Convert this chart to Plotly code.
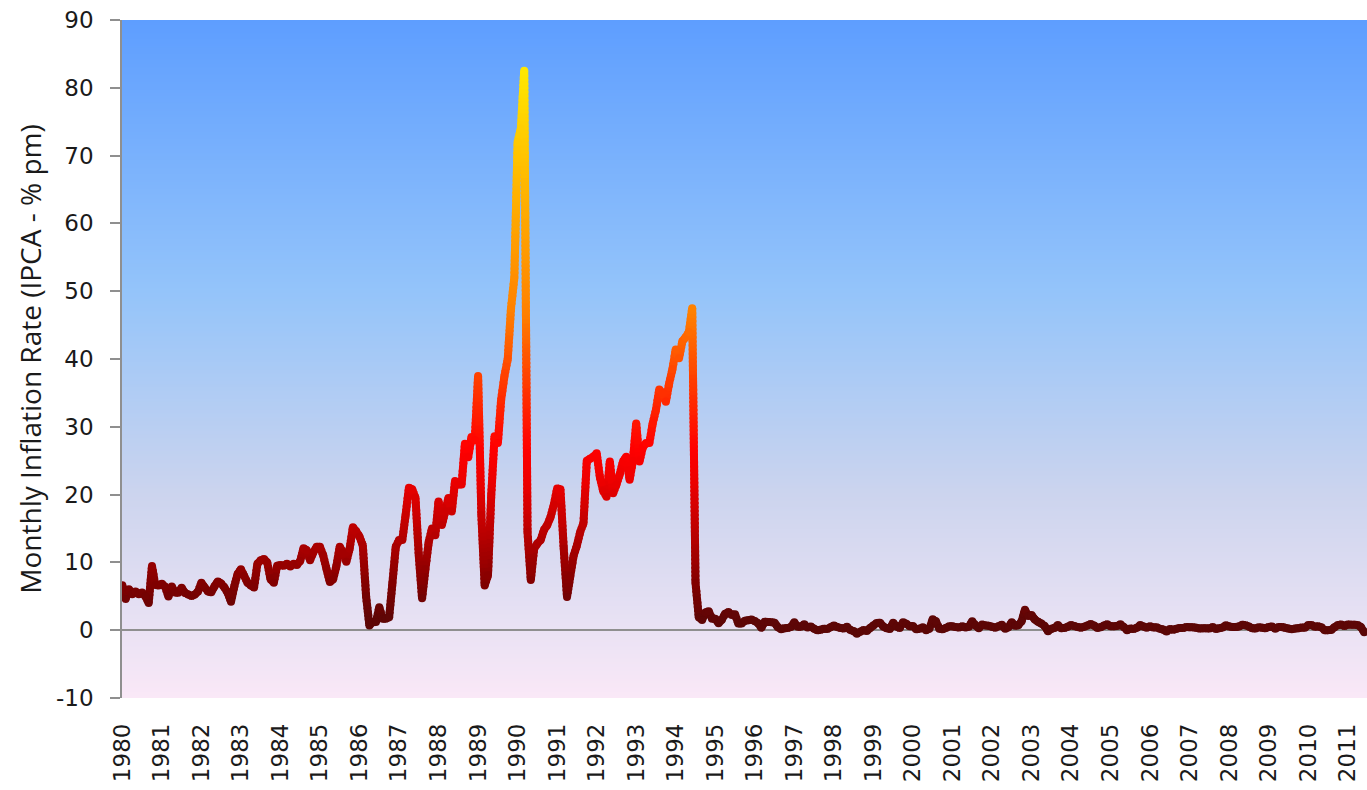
import base64
import math
import struct
import zlib

import plotly.graph_objects as go

# ---------------- data (monthly IPCA, % per month) ----------------
years = list(range(1980, 2012))
year_labels = [str(y) for y in years]
y_ticks = list(range(-10, 91, 10))
y_labels = [str(v) for v in y_ticks]

rate_1980_1984 = [
    6.62, 4.62, 6.04, 5.29, 5.70, 5.31, 5.55, 5.01, 4.00, 9.48, 6.67, 6.61,
    6.84, 6.40, 4.97, 6.46, 5.56, 5.52, 6.26, 5.50, 5.28, 5.04, 5.26, 5.72,
    7.0, 6.3, 5.7, 5.6, 6.5, 7.2, 6.9, 6.3, 5.5, 4.2, 6.5, 8.3,
    9.0, 8.0, 7.0, 6.6, 6.3, 9.8, 10.3, 10.5, 10.0, 7.5, 7.0, 9.5,
    9.6, 9.5, 9.8, 9.4, 9.8, 9.6, 10.2, 12.1, 11.8, 10.3, 11.5, 12.3,
]
rate_1985_1989 = [
    12.3, 11.0, 9.0, 7.1, 7.5, 9.5, 12.3, 11.5, 10.1, 12.0, 15.2, 14.6,
    13.8, 12.5, 5.0, 0.7, 1.2, 1.2, 3.4, 1.7, 1.7, 1.9, 7.0, 12.3,
    13.3, 13.3, 17.0, 21.0, 20.8, 19.5, 11.0, 4.7, 9.0, 13.0, 15.0, 14.0,
    19.0, 15.5, 17.5, 19.5, 17.5, 22.0, 21.5, 21.5, 27.5, 25.5, 28.5, 28.0,
    37.5, 17.0, 6.6, 8.1, 20.0, 28.6, 27.6, 34.0, 37.5, 40.0, 47.5, 52.0,
]
rate_1990_1994 = [
    72.0, 74.0, 82.5, 14.5, 7.4, 12.0, 12.8, 13.3, 14.8, 15.5, 16.7, 18.5,
    20.9, 20.8, 12.0, 4.9, 8.0, 11.0, 12.5, 14.5, 15.8, 25.0, 25.3, 25.6,
    26.1, 22.5, 20.5, 19.7, 24.9, 20.2, 21.5, 23.0, 24.9, 25.6, 22.2, 25.0,
    30.5, 24.9, 27.0, 27.6, 27.6, 30.5, 32.5, 35.5, 35.0, 33.7, 36.4, 38.5,
    41.4, 40.1, 42.6, 43.2, 44.0, 47.5, 7.0, 1.9, 1.5, 2.6, 2.8, 1.7,
]
rate_1995_1999 = [
    1.70, 1.02, 1.55, 2.43, 2.67, 2.26, 2.36, 0.99, 0.99, 1.41, 1.47, 1.56,
    1.34, 1.03, 0.35, 1.26, 1.22, 1.19, 1.11, 0.44, 0.15, 0.30, 0.32, 0.47,
    1.18, 0.50, 0.51, 0.88, 0.41, 0.54, 0.22, -0.02, 0.06, 0.23, 0.17, 0.43,
    0.71, 0.46, 0.34, 0.24, 0.50, 0.02, -0.12, -0.51, -0.22, 0.02, -0.12, 0.33,
    0.70, 1.05, 1.10, 0.56, 0.30, 0.19, 1.09, 0.56, 0.31, 1.19, 0.95, 0.60,
]
rate_2000_2004 = [
    0.62, 0.13, 0.22, 0.42, 0.01, 0.23, 1.61, 1.31, 0.23, 0.14, 0.32, 0.59,
    0.57, 0.46, 0.38, 0.58, 0.41, 0.52, 1.33, 0.70, 0.28, 0.83, 0.71, 0.65,
    0.52, 0.36, 0.60, 0.80, 0.21, 0.42, 1.19, 0.65, 0.72, 1.31, 3.02, 2.10,
    2.25, 1.57, 1.23, 0.97, 0.61, -0.15, 0.20, 0.34, 0.78, 0.29, 0.34, 0.52,
    0.76, 0.61, 0.47, 0.37, 0.51, 0.71, 0.91, 0.69, 0.33, 0.44, 0.69, 0.86,
]
rate_2005_2009 = [
    0.58, 0.59, 0.61, 0.87, 0.49, -0.02, 0.25, 0.17, 0.35, 0.75, 0.55, 0.36,
    0.59, 0.41, 0.43, 0.21, 0.10, -0.21, 0.19, 0.05, 0.21, 0.33, 0.31, 0.48,
    0.44, 0.44, 0.37, 0.25, 0.28, 0.28, 0.24, 0.47, 0.18, 0.30, 0.38, 0.74,
    0.54, 0.49, 0.48, 0.55, 0.79, 0.74, 0.53, 0.28, 0.26, 0.45, 0.36, 0.28,
    0.48, 0.55, 0.20, 0.48, 0.47, 0.36, 0.24, 0.15, 0.24, 0.28, 0.41, 0.37,
]
rate_2010_2011 = [
    0.75, 0.78, 0.52, 0.57, 0.43, 0.00, 0.01, 0.04, 0.45, 0.75, 0.83, 0.63,
    0.83, 0.80, 0.79, 0.77, 0.47, -0.3,
]

rates = (rate_1980_1984 + rate_1985_1989 + rate_1990_1994 + rate_1995_1999
         + rate_2000_2004 + rate_2005_2009 + rate_2010_2011)
months = list(range(len(rates)))          # month index, 0 = Jan 1980
year_ticks = [12 * k for k in range(len(years))]

# ---------------- styling helpers ----------------
line_stops = [
    (-1.0, (88, 6, 6)),
    (2.0, (96, 6, 6)),
    (7.0, (130, 0, 0)),
    (14.0, (182, 0, 0)),
    (22.0, (236, 0, 0)),
    (27.0, (255, 0, 0)),
    (35.0, (255, 48, 0)),
    (47.0, (255, 128, 0)),
    (60.0, (255, 165, 0)),
    (70.0, (255, 195, 0)),
    (83.0, (255, 232, 0)),
]


def interp(stops, v):
    if v <= stops[0][0]:
        return stops[0][1]
    for (a, ca), (b, cb) in zip(stops[:-1], stops[1:]):
        if v <= b:
            t = (v - a) / (b - a)
            return tuple(int(round(ca[k] + (cb[k] - ca[k]) * t)) for k in range(3))
    return stops[-1][1]


def rgb(c):
    return "rgb(%d,%d,%d)" % c


# background gradient (fraction from top of plot area -> colour)
bg_stops = [
    (0.0, (94, 158, 255)),
    (0.4, (148, 196, 250)),
    (0.7, (204, 212, 238)),
    (0.9, (234, 226, 244)),
    (1.0, (250, 232, 247)),
]


def png_gradient(stops, h=512, w=4):
    raw = b""
    for r in range(h):
        c = interp(stops, r / (h - 1))
        raw += b"\x00" + bytes(c) * w

    def chunk(t, d):
        return struct.pack(">I", len(d)) + t + d + struct.pack(">I", zlib.crc32(t + d) & 0xFFFFFFFF)

    png = (b"\x89PNG\r\n\x1a\n"
           + chunk(b"IHDR", struct.pack(">IIBBBBB", w, h, 8, 2, 0, 0, 0))
           + chunk(b"IDAT", zlib.compress(raw, 9))
           + chunk(b"IEND", b""))
    return "data:image/png;base64," + base64.b64encode(png).decode()


# ---------------- value-coloured line (binned pieces) ----------------
LW = 8
BIN = 0.5
pieces = {}
for i in range(len(rates) - 1):
    x0, y0, x1, y1 = months[i], rates[i], months[i + 1], rates[i + 1]
    k = max(1, int(math.ceil(abs(y1 - y0) / 0.6)))
    for j in range(k):
        t0 = j / k
        t1 = min(1.0, (j + 1.5) / k) if k > 1 else 1.0
        vm = y0 + (y1 - y0) * (j + 0.5) / k
        b = int(round(vm / BIN))
        xs, ys = pieces.setdefault(b, ([], []))
        xs += [x0 + (x1 - x0) * t0, x0 + (x1 - x0) * t1, None]
        ys += [y0 + (y1 - y0) * t0, y0 + (y1 - y0) * t1, None]

fig = go.Figure()
for b in sorted(pieces):
    xs, ys = pieces[b]
    fig.add_trace(go.Scatter(
        x=xs, y=ys, mode="lines", hoverinfo="skip", showlegend=False,
        line=dict(color=rgb(interp(line_stops, b * BIN)), width=LW),
    ))

fig.add_trace(go.Scatter(
    x=months, y=rates, mode="markers", showlegend=False,
    marker=dict(size=LW, color=[rgb(interp(line_stops, v)) for v in rates], line=dict(width=0)),
    hovertemplate="%{y:.2f}%<extra></extra>",
))

AX = "#8f8f8f"
XR = [-0.1, 377.85]

fig.update_layout(
    width=1367, height=790,
    margin=dict(l=122, r=0, t=20, b=92),
    paper_bgcolor="white",
    plot_bgcolor="rgba(0,0,0,0)",
    showlegend=False,
    images=[dict(source=png_gradient(bg_stops), xref="paper", yref="paper",
                 x=0, y=1, sizex=1, sizey=1, sizing="stretch",
                 xanchor="left", yanchor="top", layer="below")],
    xaxis=dict(
        range=XR, tickmode="array", tickvals=year_ticks, ticktext=year_labels,
        tickangle=-90, ticks="", showline=False, showgrid=False, zeroline=False,
        tickfont=dict(family="DejaVu Sans", size=23, color="#1a1a1a"),
        ticklabelstandoff=20,
    ),
    xaxis2=dict(
        range=XR, overlaying="x", anchor="free", position=0.1, side="bottom",
        showline=False, showgrid=False, zeroline=False,
        tickmode="array", tickvals=[100, 200, 300], showticklabels=False,
        ticks="outside", ticklen=10, tickwidth=1.5, tickcolor=AX,
        layer="below traces",
    ),
    yaxis=dict(
        range=[-10, 90], tickmode="array", tickvals=y_ticks, ticktext=y_labels,
        ticks="outside", ticklen=10, tickwidth=1.5, tickcolor=AX,
        showline=True, linecolor=AX, linewidth=1.5,
        zeroline=True, zerolinecolor=AX, zerolinewidth=1.5,
        showgrid=False,
        tickfont=dict(family="DejaVu Sans", size=23, color="#1a1a1a"),
        ticklabelstandoff=12,
        title=dict(text="Monthly Inflation Rate (IPCA - % pm)",
                   font=dict(family="Open Sans", size=28, color="#1a1a1a"),
                   standoff=6),
    ),
)

fig.write_html("out.html", config={"displayModeBar": False},
               post_script="document.body.style.margin='0px';")
